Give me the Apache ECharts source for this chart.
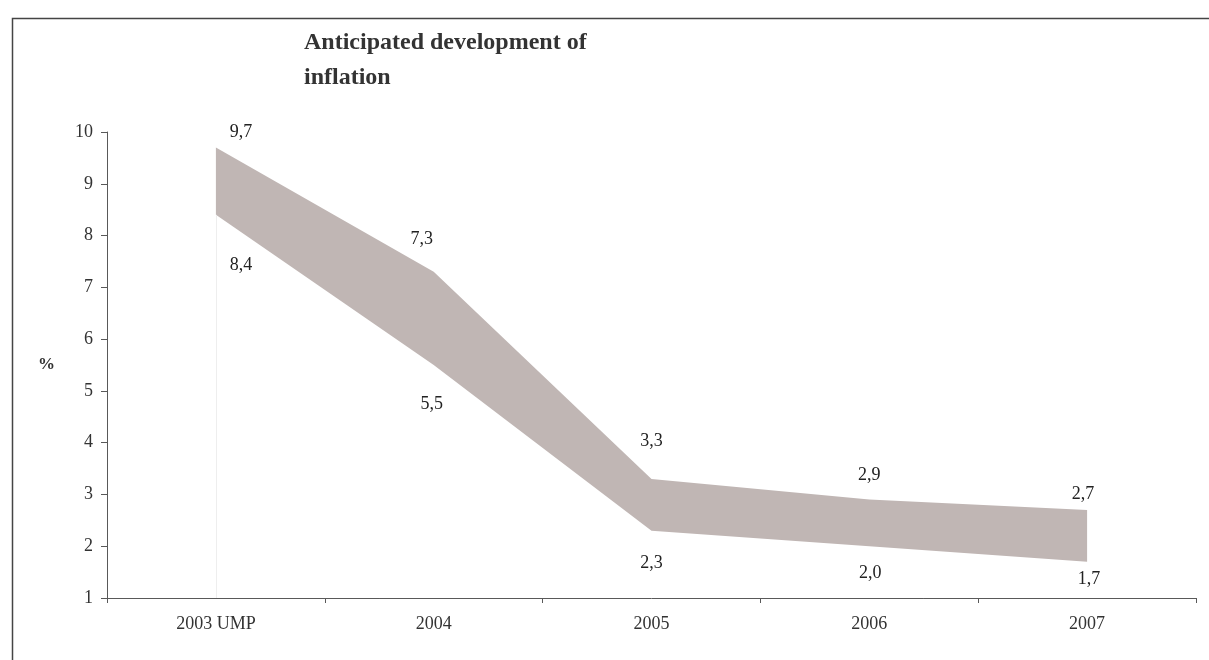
<!DOCTYPE html>
<html>
<head>
<meta charset="utf-8">
<script src="https://cdn.jsdelivr.net/npm/echarts@6/dist/echarts.min.js"></script>
<style>
html,body{margin:0;padding:0;background:#fff;}
#chart{width:1209px;height:660px;}
</style>
</head>
<body>
<div id="chart"></div>
<script>
const categories = ['2003 UMP', '2004', '2005', '2006', '2007'];
const lowerValues = [8.4, 5.5, 2.3, 2.0, 1.7];
const upperValues = [9.7, 7.3, 3.3, 2.9, 2.7];
const yTicks = [1, 10, 1]; // min, max, interval

// label placement (pixel offsets from each point), styling only
const upperLabelOffsets = [[25, -15], [-12, -33], [0, -38], [0, -24], [-4, -16]];
const lowerLabelOffsets = [[25, 50], [-2, 39], [0, 33], [1, 27], [2, 18]];

const serif = '"Liberation Serif", "DejaVu Serif", serif';
const fmt = v => v.toFixed(1).replace('.', ',');

const lowerData = lowerValues.map((v, i) => ({
  value: v,
  label: { offset: lowerLabelOffsets[i] }
}));
const upperData = upperValues.map((v, i) => ({
  value: +(v - lowerValues[i]).toFixed(2),
  label: { offset: upperLabelOffsets[i] }
}));

const chart = echarts.init(document.getElementById('chart'), null, { renderer: 'canvas' });
chart.setOption({
  animation: false,
  backgroundColor: '#ffffff',
  graphic: [{
    type: 'rect',
    left: 10, top: 16,
    shape: { width: 1400, height: 900 },
    style: { fill: 'none', stroke: '#444444', lineWidth: 1.5 },
    silent: true, z: -1
  }],
  title: {
    text: 'Anticipated development of\ninflation',
    left: 299, top: 20,
    textStyle: { fontFamily: serif, fontWeight: 'bold', fontSize: 24, color: '#333333', lineHeight: 35 }
  },
  grid: { left: 107, right: 13, top: 132, bottom: 62, containLabel: false },
  xAxis: {
    type: 'category',
    data: categories,
    boundaryGap: true,
    axisLine: { show: true, lineStyle: { color: '#595959', width: 1 } },
    axisTick: { show: true, interval: 0, length: 5, lineStyle: { color: '#595959' } },
    axisLabel: { interval: 0, margin: 17, fontFamily: serif, fontSize: 18, color: '#333333' },
    splitLine: { show: false }
  },
  yAxis: {
    type: 'value',
    min: yTicks[0], max: yTicks[1], interval: yTicks[2],
    name: '%',
    nameLocation: 'middle',
    nameRotate: 0,
    nameGap: 52,
    nameTextStyle: { fontFamily: serif, fontWeight: 'bold', fontSize: 17, color: '#333333' },
    axisLine: { show: true, lineStyle: { color: '#595959', width: 1 } },
    axisTick: { show: true, length: 6, lineStyle: { color: '#595959' } },
    axisLabel: { margin: 14, fontFamily: serif, fontSize: 18, color: '#333333' },
    splitLine: { show: false }
  },
  series: [
    {
      name: 'lower',
      type: 'line',
      stack: 'band',
      data: lowerData,
      symbol: 'circle',
      symbolSize: 0.01,
      itemStyle: { color: 'rgba(0,0,0,0)' },
      lineStyle: { width: 0, opacity: 0 },
      areaStyle: { opacity: 0 },
      label: {
        show: true, position: 'inside',
        fontFamily: serif, fontSize: 18, color: '#222222',
        formatter: p => fmt(lowerValues[p.dataIndex])
      },
      markLine: {
        silent: true, symbol: 'none',
        label: { show: false },
        lineStyle: { color: '#eeeeee', width: 1, type: 'solid' },
        data: [[{ coord: [0, yTicks[0]] }, { coord: [0, lowerValues[0]] }]]
      },
      z: 3
    },
    {
      name: 'upper',
      type: 'line',
      stack: 'band',
      data: upperData,
      symbol: 'circle',
      symbolSize: 0.01,
      itemStyle: { color: 'rgba(0,0,0,0)' },
      lineStyle: { width: 0, opacity: 0 },
      areaStyle: { color: '#C0B6B4', opacity: 1 },
      label: {
        show: true, position: 'inside',
        fontFamily: serif, fontSize: 18, color: '#222222',
        formatter: p => fmt(upperValues[p.dataIndex])
      },
      z: 2
    }
  ]
});
</script>
</body>
</html>
